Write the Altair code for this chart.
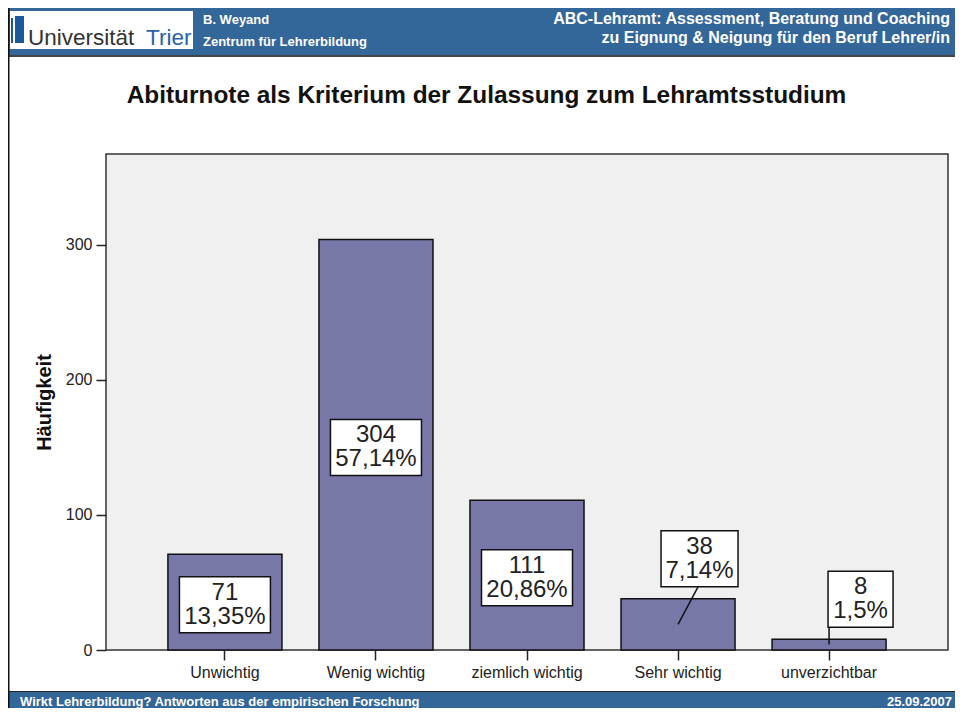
import altair as alt
import pandas as pd

categories = ["Unwichtig", "Wenig wichtig", "ziemlich wichtig", "Sehr wichtig", "unverzichtbar"]
counts = [71, 304, 111, 38, 8]
percents = ["13,35%", "57,14%", "20,86%", "7,14%", "1,5%"]
y_ticks = [0, 100, 200, 300]

title_text = "Abiturnote als Kriterium der Zulassung zum Lehramtsstudium"
y_title = "Häufigkeit"
header_left = ["B. Weyand", "Zentrum für Lehrerbildung"]
header_right = ["ABC-Lehramt: Assessment, Beratung und Coaching",
                "zu Eignung & Neigung für den Beruf Lehrer/in"]
footer_left = "Wirkt Lehrerbildung? Antworten aus der empirischen Forschung"
footer_right = "25.09.2007"

df = pd.DataFrame({"cat": categories, "n": counts, "pct": percents})
df["ntxt"] = df["n"].astype(str)

BLUE = "#336699"
BAR = "#7878a8"
FONT = "Liberation Sans"

base = alt.Chart(df)
xenc = alt.X("cat:N", sort=categories,
             scale=alt.Scale(paddingInner=0.245, paddingOuter=0.41),
             axis=alt.Axis(title=None, labelFontSize=16, labelColor="#222", labelFont=FONT,
                           tickSize=10, tickColor="#222", tickWidth=1.5, domain=False,
                           labelPadding=4, labelAngle=0))
yscale = alt.Scale(domain=[0, 367.4], nice=False)

bars = base.mark_bar(fill=BAR, stroke="#111", strokeWidth=1.5).encode(
    x=xenc,
    y=alt.Y("n:Q", scale=yscale,
            axis=alt.Axis(values=y_ticks, grid=False, domain=False, tickSize=10,
                          tickColor="#222", tickWidth=1.5, labelFontSize=16,
                          labelColor="#222", labelFont=FONT, labelPadding=4,
                          title=y_title, titleFontSize=20, titleFont=FONT,
                          titleFontWeight="bold", titleColor="#111",
                          titleX=-56, titleY=248, titleAngle=270,
                          titleAlign="center", titleBaseline="alphabetic")),
)

lab = base.transform_calculate(
    ly="datum.n > 50 ? datum.n / 2 - 2 : datum.n + 29.5",
    lo="datum.n / 2",
)

big = lab.transform_filter("datum.n > 50")
sehr = lab.transform_filter("datum.cat == 'Sehr wichtig'")
unv = lab.transform_filter("datum.cat == 'unverzichtbar'")

def box(src, w, dx):
    return src.mark_bar(width=w, fill="white", stroke="#111", strokeWidth=1.5,
                        yOffset=-28, y2Offset=28, xOffset=dx).encode(
        x=alt.X("cat:N", sort=categories), y=alt.Y("ly:Q"), y2="ly:Q")

def txt(src, dx):
    layers = []
    for field, dy in (("ntxt", -12), ("pct", 12)):
        layers.append(src.mark_text(fontSize=24, font=FONT, color="#222", align="center",
                                    baseline="middle", dx=dx, dy=dy).encode(
            x=alt.X("cat:N", sort=categories), y=alt.Y("ly:Q"), text=f"{field}:N"))
    return layers

def leader(src, dx):
    return src.mark_rule(color="#111", strokeWidth=1.5, y2Offset=28, x2Offset=dx).encode(
        x=alt.X("cat:N", sort=categories), x2="cat:N", y=alt.Y("lo:Q"), y2="ly:Q")

one = alt.Data(values=[{}])

def prect(x, x2, y, y2, color):
    return alt.Chart(one).mark_rect(fill=color).encode(
        x=alt.value(x), x2=alt.value(x2), y=alt.value(y), y2=alt.value(y2))

def ptext(s, x, y, size, color="white", weight="bold", align="left", font=FONT):
    return alt.Chart(one).mark_text(text=s, fontSize=size, fontWeight=weight, color=color,
                                    align=align, baseline="alphabetic", font=font).encode(
        x=alt.value(x), y=alt.value(y))

deco = [
    prect(-98, 860, -146, -99, BLUE),
    prect(-98, 860, -99, -97, "#444"),
    prect(-96, 87, -143, -105, "white"),
    prect(-95, -93, -136, -111, "#1a5a9a"),
    prect(-91, -82, -138, -111, "#1a5a9a"),
    prect(-98, 860, 538, 556, BLUE),
    prect(-98, 860, 537, 538, "#222"),
    prect(-98, -96.5, -146, 556, "#111"),
    ptext("Universität", -78, -109, 22.5, color="#333", weight="normal"),
    ptext("Trier", 40, -109, 22.5, color="#2a64a8", weight="normal"),
    ptext(header_left[0], 97, -130, 13),
    ptext(header_left[1], 97, -108, 13),
    ptext(header_right[0], 844, -130, 16, align="right"),
    ptext(header_right[1], 844, -111, 16, align="right"),
    ptext(title_text, 380.5, -51, 24.4, color="#111", align="center"),
    ptext(footer_left, -86, 552, 13),
    ptext(footer_right, 846, 552, 13, align="right"),
]

chart = alt.layer(
    bars,
    box(big, 91, 0), *txt(big, 0),
    leader(sehr, 20), box(sehr, 77, 21.5), *txt(sehr, 21.5),
    leader(unv, 0), box(unv, 65, 31.5), *txt(unv, 31.5),
    *deco,
).properties(
    width=842, height=496,
    autosize=alt.AutoSizeParams(type="none"),
    padding={"left": 98, "top": 146, "right": 7, "bottom": 58},
    background="white",
).configure_view(
    fill="#f0f0f0", stroke="#333", strokeWidth=1.5
)

chart.save("out.html", embed_options={"renderer": "svg", "actions": False})
